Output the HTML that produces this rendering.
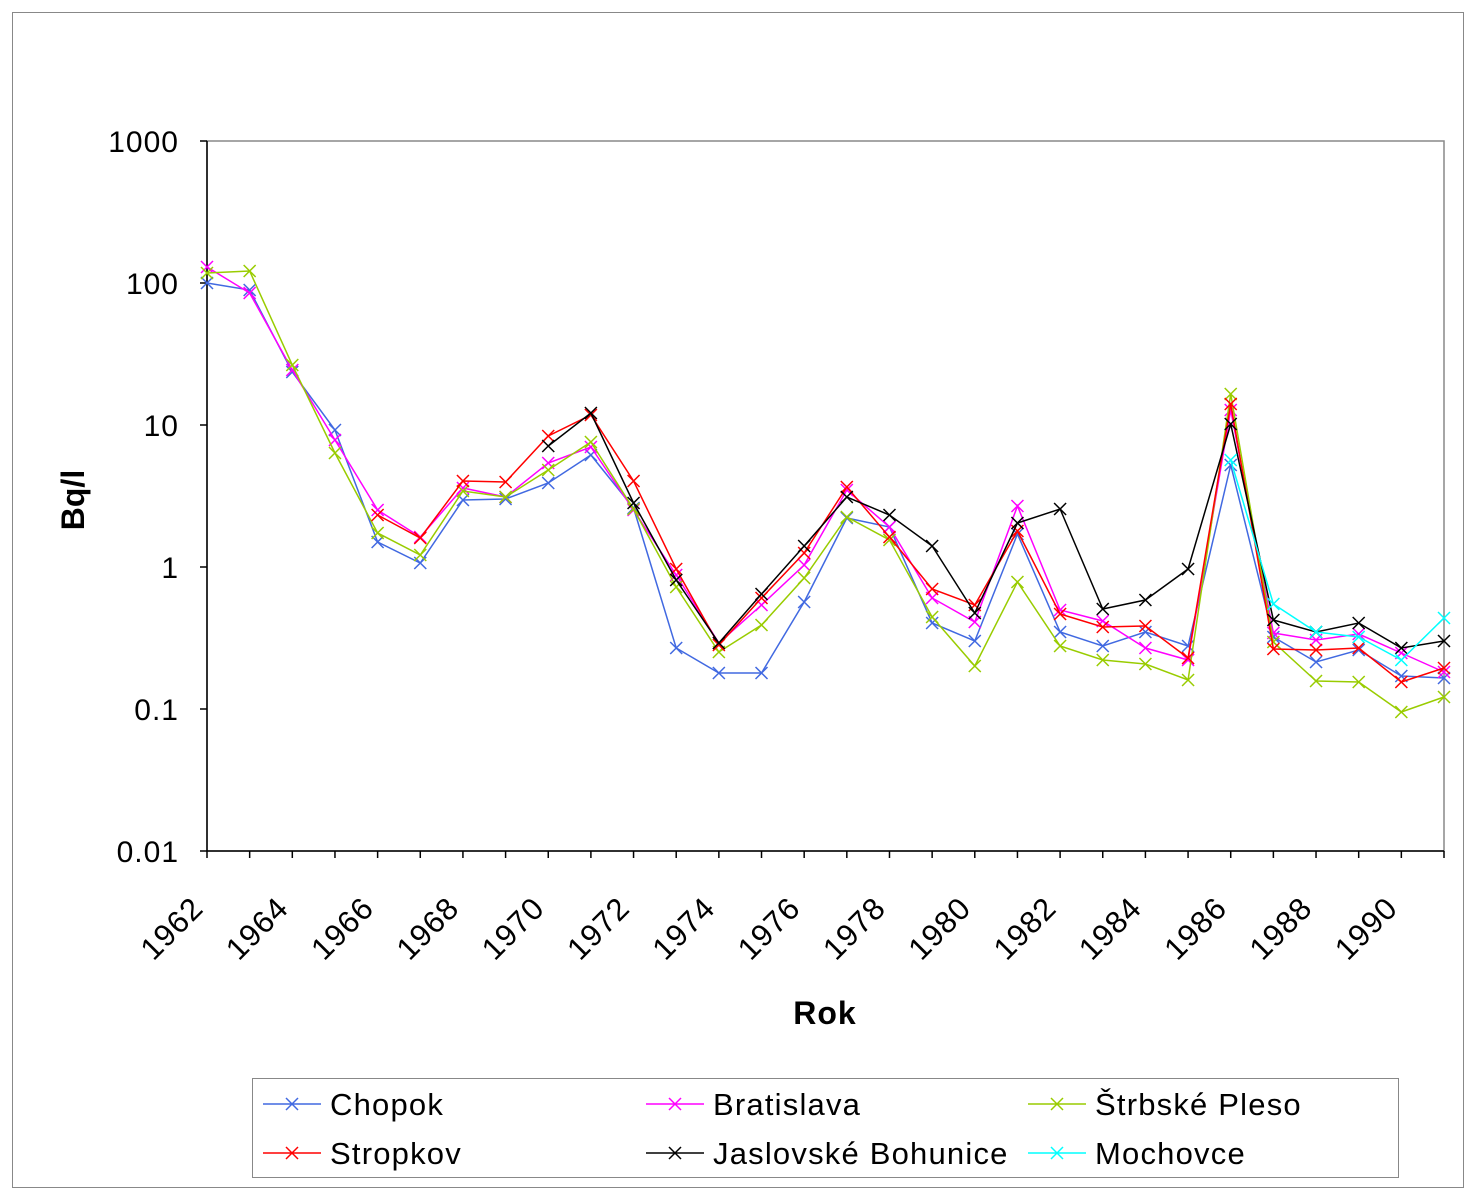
<!DOCTYPE html>
<html><head><meta charset="utf-8"><style>
body{margin:0;background:#fff}
svg{display:block;font-family:"Liberation Sans",sans-serif}
</style></head><body>
<svg id="s" width="1478" height="1200" xmlns="http://www.w3.org/2000/svg">
<rect x="12.5" y="12.5" width="1451" height="1175" fill="#fff" stroke="#888" stroke-width="1"/>
<rect x="207" y="141" width="1237" height="710" fill="#fff" stroke="#888" stroke-width="1.5"/>
<g id="ax"></g>
<text x="73" y="500" font-size="32" font-weight="bold" text-anchor="middle" transform="rotate(-90 73 500)" dy="11">Bq/l</text>
<text x="825" y="1024" font-size="32" font-weight="bold" text-anchor="middle" letter-spacing="1">Rok</text>
<rect x="252.5" y="1078.5" width="1146" height="99" fill="#fff" stroke="#888" stroke-width="1"/>
<g id="ser"></g>
<g id="leg" font-size="31" letter-spacing="1.2"></g>
</svg>
<script>
const NS="http://www.w3.org/2000/svg";
function el(p,t,a,txt){const e=document.createElementNS(NS,t);for(const k in a)e.setAttribute(k,a[k]);if(txt)e.textContent=txt;p.appendChild(e);return e;}
const ax=document.getElementById('ax');
const X=y=>207+(y-1962)*1237/29;
[["1000",141],["100",283],["10",425],["1",567],["0.1",709],["0.01",851]].forEach(([t,y])=>{
 el(ax,'line',{x1:200,x2:207,y1:y,y2:y,stroke:'#000','stroke-width':1.5});
 el(ax,'text',{x:179,y:y+11,'font-size':30,'text-anchor':'end','letter-spacing':1},t);
});
el(ax,'line',{x1:207,x2:207,y1:141,y2:851,stroke:'#000','stroke-width':1.5});
el(ax,'line',{x1:207,x2:1444,y1:851,y2:851,stroke:'#000','stroke-width':1.5});
for(let yr=1962;yr<=1991;yr++){const x=X(yr);el(ax,'line',{x1:x,x2:x,y1:851,y2:858,stroke:'#000','stroke-width':1.5});
 if(yr%2==0){const tx=x-2,ty=910;el(ax,'text',{x:tx,y:ty,'font-size':31,'text-anchor':'end','letter-spacing':1,transform:`rotate(-45 ${tx} ${ty})`},String(yr));}}
const S=[
["Chopok","#4169e1",1962,[283,290,372,430,542,563,500,499,483,455,508,648,673,673,602,518,527,623,641,534,632,646,632,646,465,637,662,650,676,678]],
["Bratislava","#ff00ff",1962,[267,293,370,440,510,537,488,497,463,447,510,575,643,605,565,490,527,598,622,506,610,621,648,660,410,633,640,634,653,672]],
["Štrbské Pleso","#99cc00",1962,[273,271,365,453,533,555,491,497,470,442,509,587,652,625,578,517,540,617,666,582,646,660,664,680,394,642,681,682,712,697]],
["Stropkov","#ff0000",1966,[515,538,481,482,436,415,481,569,645,598,553,487,537,589,605,531,614,627,626,658,404,649,650,648,682,668]],
["Jaslovské Bohunice","#000000",1970,[446,413,503,580,643,594,546,497,515,546,613,523,509,609,600,569,424,620,632,623,648,641]],
["Mochovce","#00ffff",1986,[460,604,632,637,660,618]]];
const g=document.getElementById('ser');
function mk(p,x,y,c){el(p,'path',{d:`M${x-6} ${y-6}L${x+6} ${y+6}M${x-6} ${y+6}L${x+6} ${y-6}`,stroke:c,'stroke-width':1.5,fill:'none'});}
S.forEach(([n,c,st,d])=>{const pts=d.map((y,i)=>[X(st+i),y]);
 el(g,'polyline',{points:pts.map(p=>p.join(',')).join(' '),fill:'none',stroke:c,'stroke-width':1.5});
 pts.forEach(p=>mk(g,p[0],p[1],c));});
const L=document.getElementById('leg');
const pos=[[263,1104],[646,1104],[1028,1104],[263,1153],[646,1153],[1028,1153]];
S.forEach(([n,c],i)=>{const [x,y]=pos[i];el(L,'line',{x1:x,x2:x+58,y1:y,y2:y,stroke:c,'stroke-width':1.5});mk(L,x+29,y,c);
 el(L,'text',{x:x+67,y:y+11},n);});
</script>
</body></html>
